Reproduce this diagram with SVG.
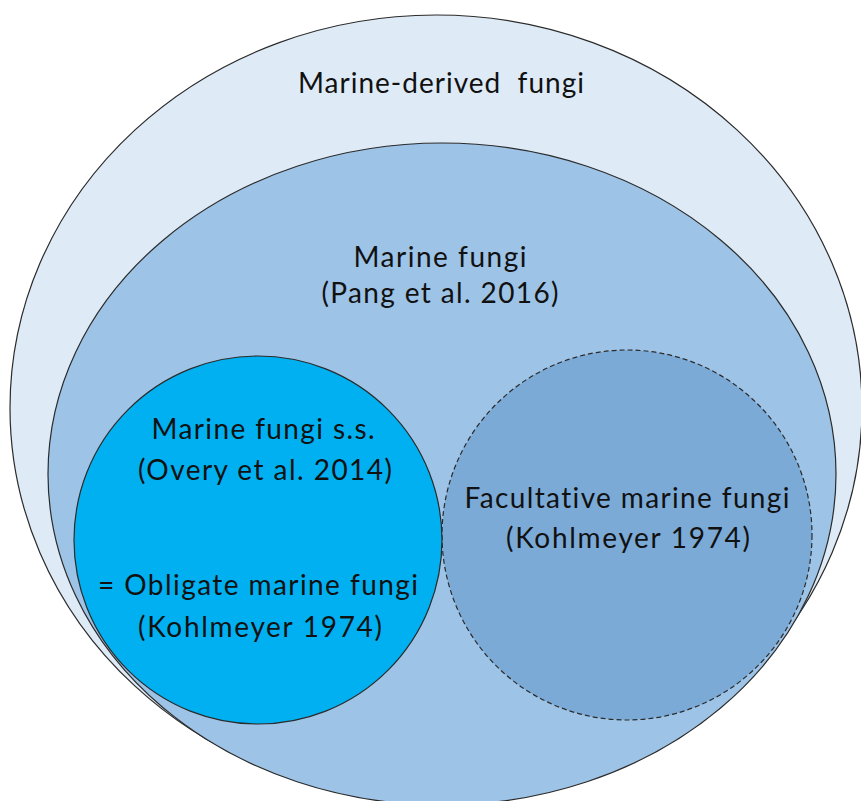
<svg xmlns="http://www.w3.org/2000/svg" width="861" height="801" viewBox="0 0 861 801">
<style>
.shape{stroke:#2b2b2b;stroke-width:1.2}
.lbl{font-family:Lato,"Liberation Sans",sans-serif;font-size:28px;fill:#111;text-anchor:middle;font-variant-ligatures:none;font-feature-settings:"liga" 0,"clig" 0}
</style>
<rect width="861" height="801" fill="#ffffff"/>
<g id="marine-derived-fungi">
<ellipse class="shape" cx="436" cy="408" rx="426" ry="393" fill="#DEEBF7"/>
<text class="lbl" x="441" y="93" textLength="286" lengthAdjust="spacing">Marine-derived&#160; fungi</text>
</g>
<g id="marine-fungi">
<ellipse class="shape" cx="442" cy="474" rx="394" ry="331" fill="#9DC3E6"/>
<text class="lbl" x="440" y="267" textLength="173" lengthAdjust="spacing">Marine fungi</text>
<text class="lbl" x="440" y="303" textLength="237" lengthAdjust="spacing">(Pang et al. 2016)</text>
</g>
<g id="facultative-marine-fungi">
<circle class="shape" cx="627" cy="535" r="185" fill="#7BAAD7" stroke-dasharray="5 3" stroke-width="1.4"/>
<text class="lbl" x="627" y="508" textLength="325" lengthAdjust="spacing">Facultative marine fungi</text>
<text class="lbl" x="628" y="548" textLength="244" lengthAdjust="spacing">(Kohlmeyer 1974)</text>
</g>
<g id="marine-fungi-ss">
<circle class="shape" cx="258" cy="540" r="184" fill="#00B0F0"/>
<text class="lbl" x="263" y="439" textLength="223" lengthAdjust="spacing">Marine fungi s.s.</text>
<text class="lbl" x="265" y="480" textLength="254" lengthAdjust="spacing">(Overy et al. 2014)</text>
<text class="lbl" x="258" y="595" textLength="320" lengthAdjust="spacing">= Obligate marine fungi</text>
<text class="lbl" x="260" y="637" textLength="244" lengthAdjust="spacing">(Kohlmeyer 1974)</text>
</g>
</svg>
